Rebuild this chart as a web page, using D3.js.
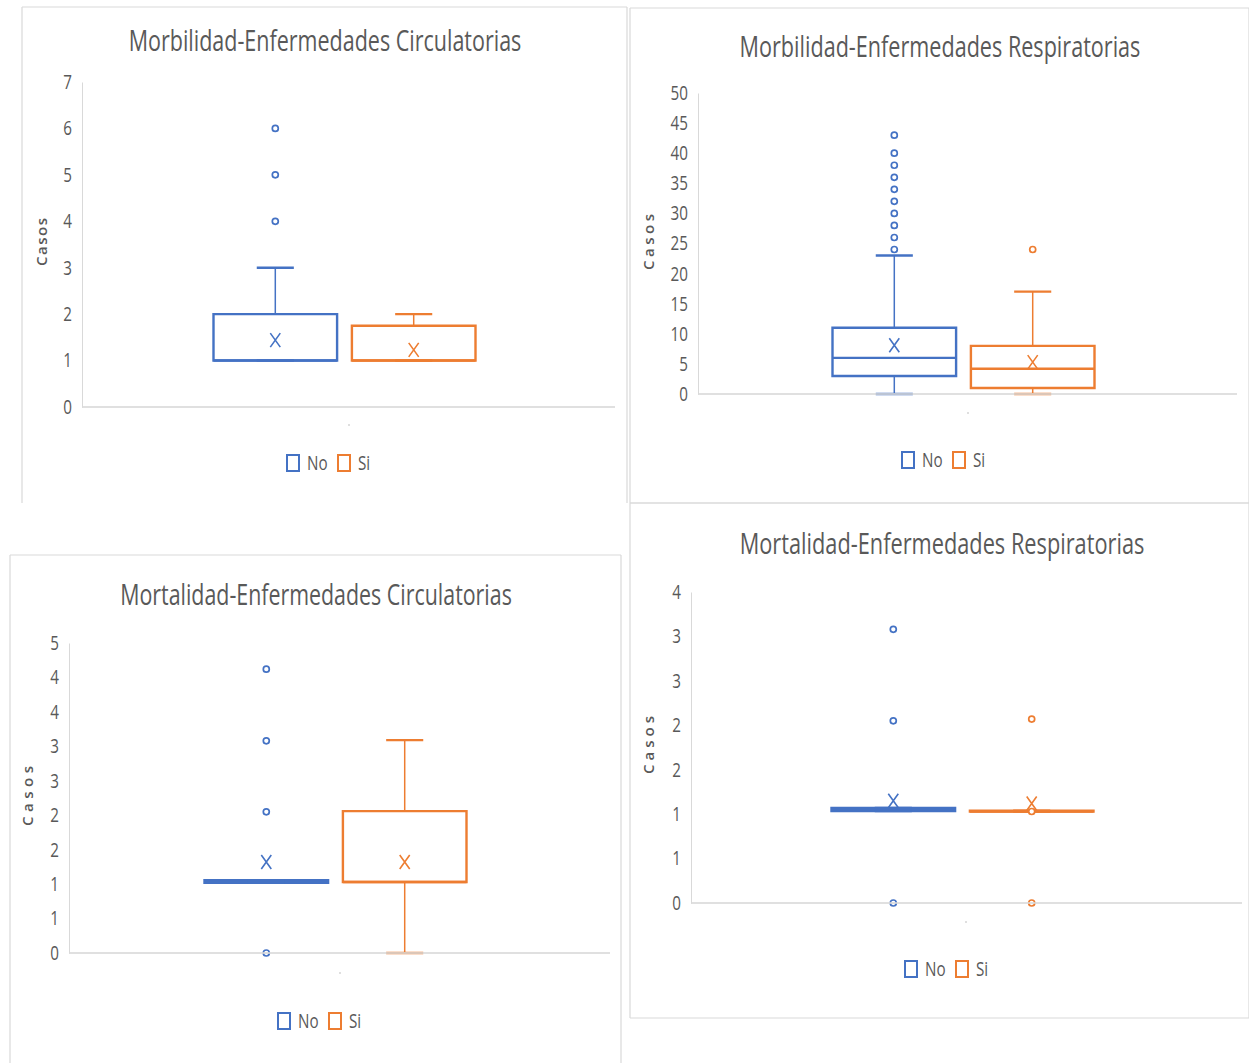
<!DOCTYPE html>
<html><head><meta charset="utf-8">
<script src="https://cdn.jsdelivr.net/npm/d3@7"></script>
<style>body{margin:0;background:#fff} svg{display:block}</style>
</head><body><svg id="c" width="1249" height="1063"></svg>
<script>
// ---------- DATA ----------
const series = ["No", "Si"];
const chartTitles = [
  "Morbilidad-Enfermedades Circulatorias",
  "Morbilidad-Enfermedades Respiratorias",
  "Mortalidad-Enfermedades Circulatorias",
  "Mortalidad-Enfermedades Respiratorias"
];
const axisTitle = "Casos";

// y-axis ticks and labels
const morbCircTicks = [0, 1, 2, 3, 4, 5, 6, 7];
const morbCircTickLabels = ["0", "1", "2", "3", "4", "5", "6", "7"];
const morbRespTicks = [0, 5, 10, 15, 20, 25, 30, 35, 40, 45, 50];
const morbRespTickLabels = ["0", "5", "10", "15", "20", "25", "30", "35", "40", "45", "50"];
const mortCircTicks = [0, 0.5, 1, 1.5, 2, 2.5, 3, 3.5, 4, 4.5];
const mortCircTickLabels = ["0", "1", "1", "2", "2", "3", "3", "4", "4", "5"];
const mortRespTicks = [0, 0.5, 1, 1.5, 2, 2.5, 3, 3.5];
const mortRespTickLabels = ["0", "1", "1", "2", "2", "3", "3", "4"];

// box statistics: [whiskerLow, q1, median, q3, whiskerHigh, mean]
const morbCircNoStats = [1, 1, 1, 2, 3, 1.44];
const morbCircSiStats = [1, 1, 1, 1.75, 2, 1.23];
const morbCircNoOutliers = [4, 5, 6];
const morbCircSiOutliers = [];

const morbRespNoStats = [0, 3, 6, 11, 23, 8.1];
const morbRespSiStats = [0, 1, 4.2, 8, 17, 5.3];
const morbRespNoOutliers = [24, 26, 28, 30, 32, 34, 36, 38, 40, 43];
const morbRespSiOutliers = [24];

const mortCircNoStats = [1.02, 1.02, 1.03, 1.055, 1.055, 1.32];
const mortCircSiStats = [0, 1.03, 1.03, 2.06, 3.09, 1.32];
const mortCircNoOutliers = [0, 2.05, 3.08, 4.12];
const mortCircSiOutliers = [];

const mortRespNoStats = [1.035, 1.035, 1.05, 1.07, 1.07, 1.15];
const mortRespSiStats = [1.03, 1.03, 1.03, 1.04, 1.04, 1.12];
const mortRespNoOutliers = [0, 2.05, 3.08];
const mortRespSiOutliers = [0, 1.03, 2.07];

// ---------- STYLE / LAYOUT ----------
const colors = ["#4472C4", "#ED7D31"];
const textColor = "#595959";
const gridColor = "#d9d9d9";
const layout = [
  {frame: [22, 7, 627, 503], sides: "ltr", plot: [82, 615, 82, 407], titleX: 325, titleY: 51, titleW: 393,
   casos: [42, 242, 48], legendX: 287, legendY: 463, tiny: [349, 425]},
  {frame: [630, 8, 1249, 503], sides: "ltrb", plot: [698, 1237, 93, 394], titleX: 940, titleY: 57, titleW: 401,
   casos: [649, 242, 56], legendX: 902, legendY: 460, tiny: [968, 413]},
  {frame: [10, 555, 621, 1070], sides: "ltr", plot: [69, 610, 643, 953], titleX: 316, titleY: 605, titleW: 392,
   casos: [28, 796, 60], legendX: 278, legendY: 1021, tiny: [340, 973]},
  {frame: [630, 503, 1249, 1018], sides: "ltrb", plot: [691, 1242, 592, 903], titleX: 942, titleY: 554, titleW: 405,
   casos: [649, 745, 58], legendX: 905, legendY: 969, tiny: [966, 922]}
];

const panels = [
  {ticks: morbCircTicks, labels: morbCircTickLabels, stats: [morbCircNoStats, morbCircSiStats], outliers: [morbCircNoOutliers, morbCircSiOutliers]},
  {ticks: morbRespTicks, labels: morbRespTickLabels, stats: [morbRespNoStats, morbRespSiStats], outliers: [morbRespNoOutliers, morbRespSiOutliers]},
  {ticks: mortCircTicks, labels: mortCircTickLabels, stats: [mortCircNoStats, mortCircSiStats], outliers: [mortCircNoOutliers, mortCircSiOutliers]},
  {ticks: mortRespTicks, labels: mortRespTickLabels, stats: [mortRespNoStats, mortRespSiStats], outliers: [mortRespNoOutliers, mortRespSiOutliers]}
];

const FONT = "'Open Sans', 'Noto Sans', sans-serif";
const svg = d3.select("#c");

function squeeze(sel, f) {
  sel.each(function () {
    const L = this.getComputedTextLength();
    if (L > 0) d3.select(this).attr("textLength", L * f).attr("lengthAdjust", "spacingAndGlyphs");
  });
}

panels.forEach((p, i) => {
  const L = layout[i];
  const g = svg.append("g");
  const [fx0, fy0, fx1, fy1] = L.frame;
  // frame
  const fr = g.append("g").attr("stroke", gridColor).attr("stroke-width", 1.2).attr("fill", "none");
  if (L.sides.includes("l")) fr.append("line").attr("x1", fx0).attr("x2", fx0).attr("y1", fy0).attr("y2", fy1);
  if (L.sides.includes("t")) fr.append("line").attr("x1", fx0).attr("x2", fx1).attr("y1", fy0).attr("y2", fy0);
  if (L.sides.includes("r")) fr.append("line").attr("x1", fx1).attr("x2", fx1).attr("y1", fy0).attr("y2", fy1);
  if (L.sides.includes("b")) fr.append("line").attr("x1", fx0).attr("x2", fx1).attr("y1", fy1).attr("y2", fy1);

  // title (horizontally condensed via scale transform)
  const tg = g.append("g");
  const tt = tg.append("text").attr("x", 0).attr("y", 0).attr("text-anchor", "middle")
    .attr("font-family", FONT).attr("font-size", 29).attr("fill", textColor)
    .text(chartTitles[i]);
  const nat = tt.node().getComputedTextLength();
  tg.attr("transform", `translate(${L.titleX},${L.titleY}) scale(${L.titleW / nat},1)`);

  const [left, right, top, bottom] = L.plot;
  const y = d3.scaleLinear().domain([0, d3.max(p.ticks)]).range([bottom, top]);
  const x0 = d3.scaleBand().domain([""]).range([left, right - 8]);
  const cx = x0("") + x0.bandwidth() / 2;
  const x1 = d3.scaleBand().domain(series).range([cx - 131, cx + 131]).paddingInner(0.107);

  // y axis
  const ax = g.append("g").attr("transform", `translate(${left},0)`)
    .call(d3.axisLeft(y).tickValues(p.ticks).tickFormat((d, k) => p.labels[k]).tickSize(0).tickPadding(10));
  ax.select(".domain").attr("stroke", gridColor).attr("stroke-width", 1);
  ax.selectAll("text").attr("font-family", FONT).attr("font-size", 20).attr("fill", textColor);
  squeeze(ax.selectAll("text"), 0.76);

  // axis title
  g.append("text").attr("transform", `translate(${L.casos[0]},${L.casos[1]}) rotate(-90)`)
    .attr("text-anchor", "middle").attr("dy", "0.35em")
    .attr("font-family", FONT).attr("font-size", 15).attr("font-weight", 600).attr("fill", textColor)
    .attr("textLength", L.casos[2]).attr("lengthAdjust", "spacing")
    .text(axisTitle);

  // boxes
  series.forEach((s, k) => {
    const st = p.stats[k];
    const [lo, q1, med, q3, hi, mean] = st;
    const bx = x1(s), bw = x1.bandwidth(), mx = bx + bw / 2;
    const capW = bw * 0.3;
    const c = colors[k];
    const bg = g.append("g").attr("fill", "none").attr("stroke", c);
    // whiskers
    bg.append("line").attr("x1", mx).attr("x2", mx).attr("y1", y(q3)).attr("y2", y(hi)).attr("stroke-width", 1.5);
    bg.append("line").attr("x1", mx).attr("x2", mx).attr("y1", y(q1)).attr("y2", y(lo)).attr("stroke-width", 1.5);
    // box
    bg.append("path").attr("stroke-width", 2.4)
      .attr("d", `M${bx},${y(q3)}H${bx + bw}V${y(q1)}H${bx}Z`);
    // median
    bg.append("line").attr("x1", bx).attr("x2", bx + bw).attr("y1", y(med)).attr("y2", y(med)).attr("stroke-width", 2.4);
    // caps
    [lo, hi].forEach(v => {
      bg.append("line").attr("x1", mx - capW / 2).attr("x2", mx + capW / 2).attr("y1", y(v)).attr("y2", y(v)).attr("stroke-width", 2.4);
    });
    // mean marker X
    bg.append("path").attr("transform", `translate(${mx},${y(mean)})`).attr("stroke-width", 1.6)
      .attr("d", "M-5,-7L5,7M-5,7L5,-7");
    // outliers
    bg.selectAll("circle.o").data(p.outliers[k]).join("circle").attr("class", "o")
      .attr("cx", mx).attr("cy", d => y(d)).attr("r", 3).attr("fill", "#fff").attr("stroke-width", 1.7);
  });

  // baseline axis
  g.append("line").attr("x1", left).attr("x2", right).attr("y1", bottom).attr("y2", bottom)
    .attr("stroke", gridColor).attr("stroke-width", 2).attr("opacity", 0.8);
  // tiny category mark
  g.append("line").attr("x1", L.tiny[0]).attr("x2", L.tiny[0]).attr("y1", L.tiny[1] - 1).attr("y2", L.tiny[1] + 1)
    .attr("stroke", "#bfbfbf").attr("stroke-width", 1);

  // legend
  series.forEach((s, k) => {
    const lx = L.legendX + k * 51;
    g.append("rect").attr("x", lx).attr("y", L.legendY - 8).attr("width", 12).attr("height", 16)
      .attr("fill", "#fff").attr("stroke", colors[k]).attr("stroke-width", 2);
    const t = g.append("text").attr("x", lx + 20).attr("y", L.legendY).attr("dy", "0.36em")
      .attr("font-family", FONT).attr("font-size", 20).attr("fill", textColor).text(s);
    squeeze(t, 0.76);
  });
});
</script></body></html>
